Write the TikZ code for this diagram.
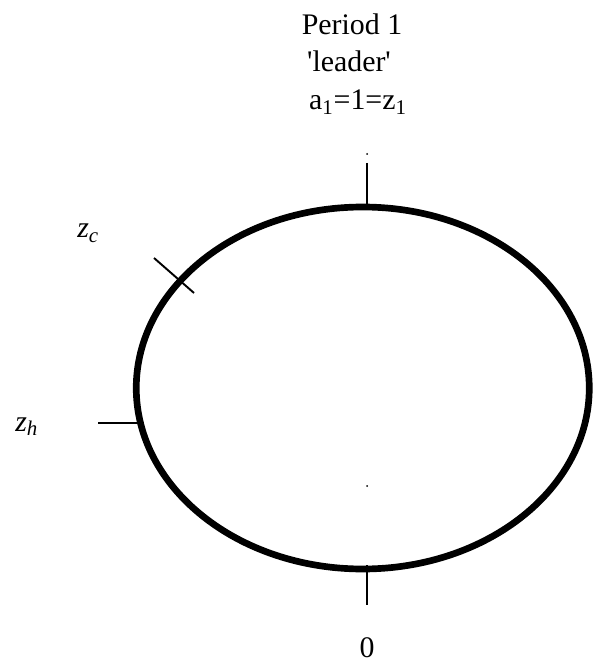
\documentclass[tikz,border=0pt]{standalone}
\usepackage{fontspec}
\setmainfont{Liberation Serif}[Ligatures=TeXOff]
\begin{document}
\begin{tikzpicture}[x=0.02cm, y=-0.02cm, every node/.style={font=\fontsize{17}{20}\selectfont, inner sep=0pt},
    rim/.style={line width=3.8pt}, tick/.style={line width=1.1pt}]
    \useasboundingbox (0,0) rectangle (593,661);
    \draw[rim] (362.75,388) ellipse [x radius=226.5, y radius=181];
    \draw[tick] (367,163) -- (367,204);
    \draw[tick] (367,565) -- (367,605);
    \draw[tick] (154,258) -- (194,293);
    \draw[tick] (98,423) -- (138,423);
    \fill (367,154) circle (1);
    \fill (367,486) circle (1);
    \node[anchor=base] (period) at (352,35) {Period 1};
    \node[anchor=base] (leader) at (349,72) {'leader'};
    \node[anchor=base] (eq) at (358,110) {a\textsubscript{1}=1=z\textsubscript{1}};
    \node[anchor=base west] (zc) at (77,238) {\textit{z}\textsubscript{\textit{c}}};
    \node[anchor=base west] (zh) at (15,431) {\textit{z}\textsubscript{\textit{h}}};
    \node[anchor=base] (zero) at (367,657) {0};
\end{tikzpicture}
\end{document}
